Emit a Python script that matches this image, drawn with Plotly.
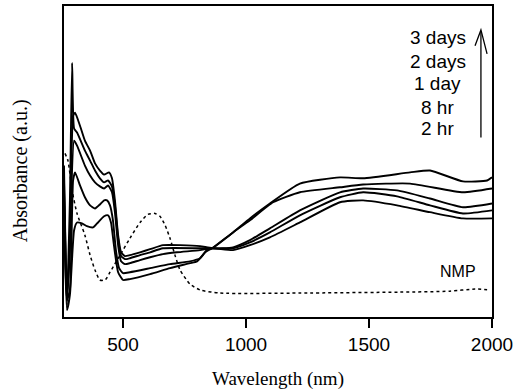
import plotly.graph_objects as go

# ---- data (wavelength in nm, absorbance in arbitrary units) ----
wl_c1 = [260, 272, 284, 297, 305, 325, 345, 366, 386, 406, 423, 443, 455, 467, 480, 492, 508, 528, 569, 610, 662, 732, 813, 862, 947, 1016, 1097, 1219, 1382, 1476, 1614, 1748, 1882, 2000]
ab_c1 = [48.7, 7.1, 21.5, 64.7, 65.7, 61.5, 56.7, 53.5, 49.4, 47.1, 45.8, 46.5, 44.6, 37.5, 26.3, 20.8, 19.6, 19.9, 20.8, 21.8, 23.1, 23.1, 22.8, 22.1, 22.4, 24.7, 28.5, 34.3, 40.1, 41.3, 40.7, 38.1, 35.3, 36.5]

wl_c2 = [260, 272, 284, 293, 301, 313, 345, 366, 386, 406, 423, 439, 455, 467, 480, 492, 508, 528, 569, 610, 662, 813, 862, 947, 1016, 1097, 1219, 1382, 1476, 1614, 1748, 1882, 2000]
ab_c2 = [43.9, 5.4, 37.5, 81.7, 60.6, 59.3, 53.5, 50.3, 47.1, 44.6, 43.3, 43.9, 42.0, 35.9, 25.3, 19.6, 18.6, 18.9, 19.9, 20.8, 22.1, 22.1, 22.1, 22.1, 24.0, 27.2, 32.7, 38.5, 40.1, 38.8, 35.9, 33.3, 34.3]

wl_c3 = [260, 272, 284, 301, 313, 345, 366, 386, 406, 423, 439, 455, 467, 480, 492, 508, 528, 569, 610, 662, 719, 813, 862, 947, 1016, 1097, 1219, 1382, 1476, 1614, 1748, 1882, 2000]
ab_c3 = [40.7, 3.8, 24.7, 56.7, 55.1, 48.7, 45.5, 43.3, 42.0, 41.3, 42.3, 40.1, 33.7, 23.1, 17.9, 17.0, 17.3, 18.3, 19.2, 20.2, 20.8, 21.5, 22.1, 21.5, 23.1, 25.6, 30.4, 36.9, 37.5, 35.9, 33.7, 31.7, 31.7]

wl_c4 = [260, 272, 284, 297, 305, 325, 345, 366, 386, 406, 423, 435, 447, 459, 471, 484, 500, 528, 610, 691, 772, 813, 833, 862, 947, 1016, 1110, 1219, 1382, 1476, 1667, 1882, 2000]
ab_c4 = [37.5, 5.4, 8.7, 43.9, 46.5, 42.3, 38.5, 35.9, 34.9, 36.2, 37.5, 37.5, 35.9, 31.1, 21.5, 15.7, 14.1, 14.4, 15.7, 17.0, 17.9, 18.9, 20.8, 22.1, 27.2, 31.1, 36.9, 40.1, 41.7, 42.6, 42.9, 40.1, 41.3]

wl_c5 = [260, 272, 284, 301, 313, 333, 353, 378, 398, 423, 439, 451, 463, 480, 500, 528, 610, 691, 772, 801, 825, 841, 862, 947, 1016, 1097, 1219, 1382, 1476, 1667, 1748, 1882, 1980, 2000]
ab_c5 = [34.3, 2.2, 7.1, 27.9, 30.4, 30.1, 29.2, 28.8, 30.4, 32.4, 32.7, 30.4, 23.1, 14.4, 11.9, 12.2, 13.8, 15.7, 17.3, 17.9, 19.9, 21.5, 22.1, 27.2, 31.7, 36.5, 42.9, 44.9, 44.6, 46.5, 47.1, 43.6, 43.9, 44.9]

wl_nmp = [264, 276, 293, 313, 345, 366, 386, 406, 427, 447, 488, 528, 569, 601, 630, 650, 671, 691, 711, 732, 772, 813, 894, 1219, 1626, 1829, 1931, 1992]
ab_nmp = [52.6, 50.3, 40.7, 33.3, 26.3, 19.9, 15.1, 11.9, 11.9, 14.4, 19.9, 25.3, 30.4, 33.0, 33.3, 32.4, 29.5, 25.3, 19.9, 15.1, 10.6, 8.7, 7.7, 7.7, 8.0, 8.3, 9.0, 8.7]

time_labels = ["3 days", "2 days", "1 day", "8 hr", "2 hr"]
x_ticks = [500, 1000, 1500, 2000]

fig = go.Figure()
for wl, ab in [(wl_c1, ab_c1), (wl_c2, ab_c2), (wl_c3, ab_c3), (wl_c4, ab_c4), (wl_c5, ab_c5)]:
    fig.add_trace(go.Scatter(x=wl, y=ab, mode="lines",
                             line=dict(color="black", width=1.9, shape="spline", smoothing=0.5),
                             showlegend=False, hoverinfo="skip"))
fig.add_trace(go.Scatter(x=wl_nmp, y=ab_nmp, mode="lines",
                         line=dict(color="black", width=1.5, dash="dot", shape="spline", smoothing=0.6),
                         showlegend=False, hoverinfo="skip"))

# time labels
label_y = [90, 82, 75, 67.5, 60.5]
for t, yy in zip(time_labels, label_y):
    fig.add_annotation(x=1780, y=yy, text=t, showarrow=False, xanchor="center", yanchor="middle",
                       font=dict(family="Liberation Sans", size=19, color="black"))
fig.add_annotation(x=1860, y=14.5, text="NMP", showarrow=False, xanchor="center", yanchor="middle",
                   font=dict(family="Liberation Sans", size=16, color="black"))

# y-axis title (placed slightly below centre, as in the original)
fig.add_annotation(xref="paper", yref="paper", x=-0.102, y=0.47, text="Absorbance (a.u.)",
                   textangle=-90, showarrow=False, xanchor="center", yanchor="middle",
                   font=dict(family="Liberation Serif", size=20, color="black"))

# arrow (open head)
fig.add_shape(type="line", x0=1955, y0=57.7, x1=1955, y1=92.0, line=dict(color="black", width=1.3))
fig.add_shape(type="path", path="M 1931,87.2 L 1955,92.3 L 1980,84.6", line=dict(color="black", width=1.3))

fig.update_layout(
    width=525, height=392,
    margin=dict(l=64, r=33, t=4, b=75),
    plot_bgcolor="white", paper_bgcolor="white",
    xaxis=dict(range=[260, 2000], tickvals=x_ticks, ticktext=[str(v) for v in x_ticks],
               ticks="outside", ticklen=9, tickwidth=1.5, tickcolor="black",
               showline=True, linecolor="black", linewidth=2, mirror=True,
               showgrid=False, zeroline=False,
               tickfont=dict(family="Liberation Sans", size=19, color="black"),
               title=dict(text="Wavelength (nm)", font=dict(family="Liberation Serif", size=19, color="black"),
                          standoff=18)),
    yaxis=dict(range=[0, 100], showticklabels=False, ticks="",
               showline=True, linecolor="black", linewidth=2, mirror=True,
               showgrid=False, zeroline=False),
)

fig.write_html("out.html", config={"displayModeBar": False},
               post_script="document.body.style.margin='0px';document.body.style.padding='0px';")
